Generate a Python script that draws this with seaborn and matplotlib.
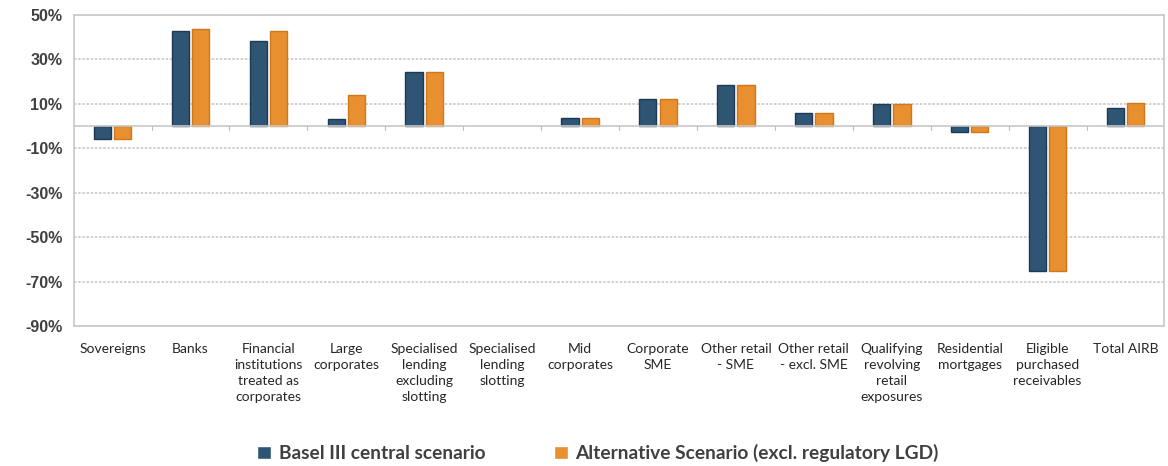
# Import libraries
import pandas as pd
import seaborn as sns
import matplotlib.pyplot as plt
import numpy as np

# Data (% change)
categories = ['Sovereigns', 'Banks', 'Financial\ninstitutions\ntreated as\ncorporates',
              'Large\ncorporates', 'Specialised\nlending\nexcluding\nslotting',
              'Specialised\nlending\nslotting', 'Mid\ncorporates', 'Corporate\nSME',
              'Other retail\n- SME', 'Other retail\n- excl. SME',
              'Qualifying\nrevolving\nretail\nexposures', 'Residential\nmortgages',
              'Eligible\npurchased\nreceivables', 'Total AIRB']
basel_central = [-5.8, 42.6, 38.2, 3.1, 24.3, 0.0, 3.7, 12.2, 18.5, 6.0, 10.0, -2.5, -65.0, 8.2]
alternative = [-5.8, 43.7, 42.6, 14.0, 24.3, 0.0, 3.7, 12.2, 18.5, 6.0, 10.0, -2.5, -65.0, 10.6]
series_names = ['Basel III central scenario', 'Alternative Scenario (excl. regulatory LGD)']
yticks = [50, 30, 10, -10, -30, -50, -70, -90]

df = pd.DataFrame({
    'category': categories * 2,
    'value': basel_central + alternative,
    'series': [series_names[0]] * len(categories) + [series_names[1]] * len(categories),
})

sns.set_style('white')
plt.rcParams['font.family'] = ['Lato', 'DejaVu Sans']

fig, ax = plt.subplots(figsize=(11.68, 4.66), dpi=100)
fig.subplots_adjust(left=0.063, right=0.997, top=0.968, bottom=0.30)

palette = {series_names[0]: '#2E5574', series_names[1]: '#E88F30'}
sns.barplot(data=df, x='category', y='value', hue='series', palette=palette,
            width=0.52, gap=0.15, ax=ax, saturation=1, legend=True)

# darker outline on bars, none on empty bars
for container, edge in zip(ax.containers, ['#1C3A55', '#D0761C']):
    for bar in container:
        bar.set_edgecolor(edge)
        bar.set_linewidth(1.0 if bar.get_height() != 0 else 0)

ax.set_ylim(-90, 50)
ax.set_yticks(yticks)
ax.set_yticklabels([f'{t}%' for t in yticks], fontfamily='Liberation Sans',
                   fontweight='bold', fontsize=11.5, color='#404040')
ax.set_xlim(-0.5, len(categories) - 0.5)
ax.set_xticks(range(len(categories)))
ax.set_xticklabels(categories, fontsize=10, color='#262626', linespacing=1.4, va='top')
ax.tick_params(axis='x', length=0, pad=12)
ax.tick_params(axis='y', length=0, pad=8)
ax.set_xlabel('')
ax.set_ylabel('')

# gridlines and frame
ax.grid(axis='y', color='#C8C8C8', linestyle=(0, (1.5, 1)), linewidth=1.2)
ax.set_axisbelow(True)
for s in ax.spines.values():
    s.set_color('#C8C8C8')
    s.set_linestyle((0, (1.5, 1)))
    s.set_linewidth(1.2)

# zero line with small category separators
ax.axhline(0, color='#C8C8C8', linewidth=1.2, zorder=1)
for i in range(1, len(categories)):
    ax.plot([i - 0.5, i - 0.5], [0, -1.8], color='#BFBFBF', linewidth=0.8, zorder=1)

handles, labels = ax.get_legend_handles_labels()
ax.get_legend().remove()
leg = fig.legend(handles, labels, loc='center', bbox_to_anchor=(0.512, 0.027), ncol=2,
                 frameon=False, handlelength=0.7, handleheight=0.7, columnspacing=3.6,
                 handletextpad=0.4, prop={'family': 'Lato', 'weight': 'bold', 'size': 13.8})
for t in leg.get_texts():
    t.set_color('#404040')

plt.savefig('out.png', dpi=100)
